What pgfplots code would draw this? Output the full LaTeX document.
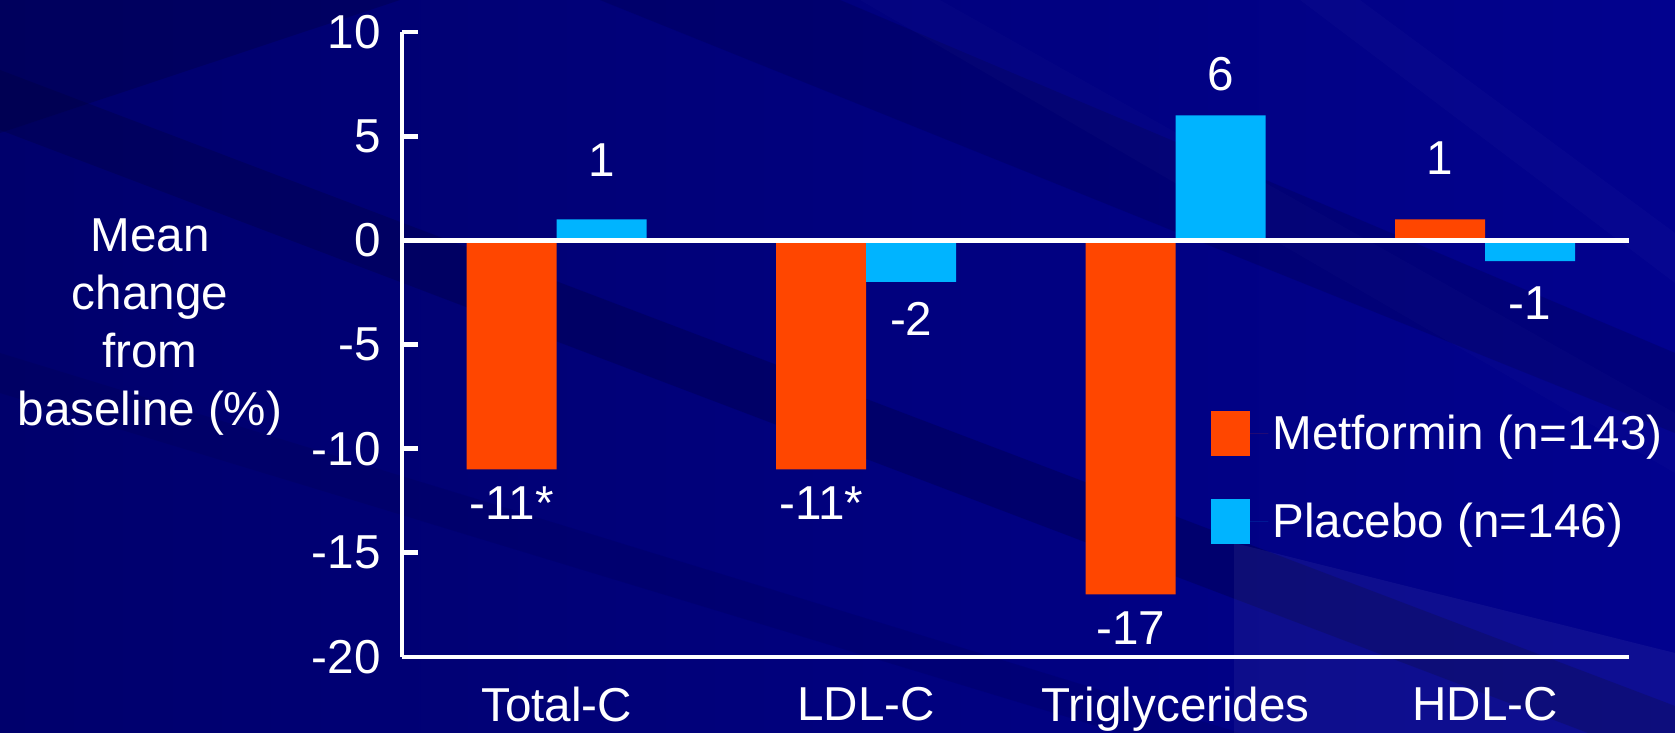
\documentclass[border=0pt]{standalone}
\usepackage{pgfplots}
\pgfplotsset{compat=1.18}
\usepackage{pgfplotstable}
\usepackage{fontspec}
\setmainfont{Liberation Sans}

\definecolor{metcol}{RGB}{255,70,0}
\definecolor{placol}{RGB}{0,180,255}
\definecolor{bgleft}{RGB}{0,0,108}
\definecolor{bgright}{RGB}{2,2,142}
\definecolor{bandcol}{RGB}{0,0,60}

% group, mean change (%), printed label, offset of label centre from bar end (pt)
\pgfplotstableread{
x  y    label   dy
0  -11  {-11*}  -17
1  -11  {-11*}  -17
2  -17  {-17}   -17
3  1    {1}     30.5
}\metformin
\pgfplotstableread{
x  y    label   dy
0  1    {1}     29.5
1  -2   {-2}    -18.5
2  6    {6}     20.5
3  -1   {-1}    -21
}\placebo

\newcommand{\chartfont}{\fontsize{23.8}{29}\selectfont}

\begin{document}
\begin{tikzpicture}[x=1pt,y=1pt]
\useasboundingbox (0,0) rectangle (837.5,366.5);
% slide background
\shade[left color=bgleft, right color=bgright] (0,0) rectangle (837.5,366.5);
\begin{scope}
  \clip (0,0) rectangle (837.5,366.5);
  \fill[bandcol, opacity=0.30] (0,331.5) -- (0,301.5) -- (837.5,-16.5) -- (837.5,13.5) -- cycle;
  \fill[bandcol, opacity=0.30] (0,366.5) -- (200,366.5) -- (0,300) -- cycle;
  \fill[bandcol, opacity=0.22] (300,366.5) -- (420,366.5) -- (837.5,190) -- (837.5,150) -- cycle;
  \fill[bandcol, opacity=0.15] (0,190) -- (0,170) -- (560,0) -- (620,0) -- cycle;
  \fill[white, opacity=0.015] (430,366.5) -- (470,366.5) -- (837.5,160) -- (837.5,130) -- cycle;
  \fill[white, opacity=0.02] (650,366.5) -- (680,366.5) -- (837.5,250) -- (837.5,225) -- cycle;
  \fill[white, opacity=0.05] (617,95) -- (837.5,40) -- (837.5,0) -- (617,0) -- cycle;
\end{scope}

\begin{axis}[
  at={(201pt,38pt)}, anchor=south west,
  scale only axis, width=613.5pt, height=312.5pt,
  xmin=-0.5, xmax=3.465, ymin=-20, ymax=10,
  ybar=0pt, bar width=45pt,
  axis x line*=bottom, axis y line*=left,
  axis line style={white, line width=2.4pt, -},
  xtick={0,1,2,3},
  xticklabels={Total-C,LDL-C,Triglycerides,HDL-C},
  ytick={-20,-15,...,10},
  ytick pos=left,
  tick align=inside,
  x tick style={draw=none},
  y tick style={white, line width=2.4pt},
  major tick length=8pt,
  ticklabel style={text=white, font=\chartfont},
  /pgf/number format/assume math mode=true,
  xticklabel style={inner sep=0pt, anchor=north, yshift=-15pt},
  yticklabel style={inner sep=0pt, anchor=east, xshift=-10.5pt},
  clip=false,
  nodes near coords,
  point meta=explicit symbolic,
  visualization depends on={\thisrow{dy} \as \labeldy},
  every node near coord/.append style={text=white, font=\chartfont,
    inner sep=0pt, anchor=center, yshift=\labeldy pt},
  legend style={at={(axis description cs:0.6593,0.394)}, anchor=north west,
    draw=none, fill=none, inner sep=0pt, row sep=21pt,
    text=white, font=\chartfont},
  legend cell align=left,
  legend image code/.code={%
    \path[#1, draw=none] (0pt,-11.25pt) rectangle (19.5pt,11.25pt);
    \path (0pt,0pt) -- (28.5pt,0pt);},
]
\addplot[fill=metcol, draw=none] table[x=x, y=y, meta=label] {\metformin};
\addplot[fill=placol, draw=none] table[x=x, y=y, meta=label] {\placebo};
\legend{Metformin (n=143), Placebo (n=146)}
% zero line
\draw[white, line width=2.6pt] (axis cs:-0.5,0) -- (axis cs:3.465,0);
\node[text=white, font=\chartfont, align=center, anchor=center]
  at (axis description cs:-0.2054,0.528)
  {Mean\\change\\from\\baseline (\%)};
\end{axis}
\end{tikzpicture}
\end{document}
